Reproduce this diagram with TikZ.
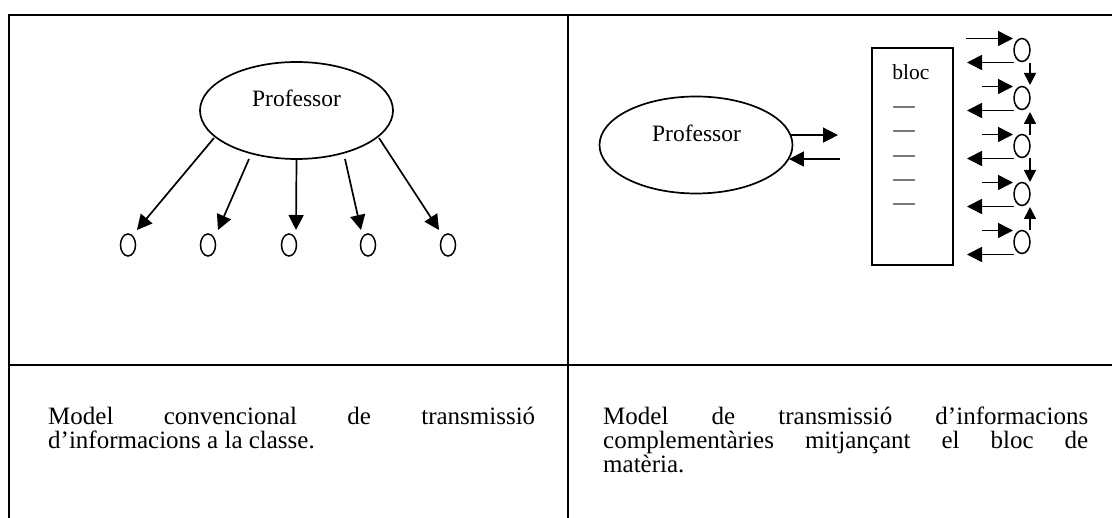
\documentclass[tikz,border=0pt]{standalone}
\usepackage{fontspec}
\setmainfont{Liberation Serif}
\usetikzlibrary{arrows.meta,shapes.geometric,calc}
\begin{document}
\begin{tikzpicture}[x=1pt,y=-1pt,
  tbl/.style={line width=2pt},
  big/.style={draw, ellipse, line width=1.7pt, minimum width=193pt, minimum height=97pt, inner sep=0pt, outer sep=0pt},
  pupil/.style={draw, ellipse, line width=1.5pt, minimum width=15pt, minimum height=22pt, inner sep=0pt, outer sep=0pt},
  pupilr/.style={pupil, minimum width=16pt, minimum height=23pt},
  blocbox/.style={draw, rectangle, line width=1.8pt, minimum width=81pt, minimum height=217pt, inner sep=0pt, outer sep=0pt},
  arr/.style={line width=1.7pt, -{Triangle[length=15pt,width=15pt]}},
  varr/.style={line width=1.7pt, -{Triangle[length=12pt,width=12pt]}},
  lbl/.style={font=\fontsize{23.5}{24}\selectfont, anchor=base, inner sep=0pt},
  smalltxt/.style={font=\fontsize{21.5}{24}\selectfont, anchor=base, inner sep=0pt},
  captxt/.style={font=\fontsize{25}{24}\selectfont, anchor=base west, inner sep=0pt},
]
\useasboundingbox (0,0) rectangle (1112,518);
\fill[white] (0,0) rectangle (1112,518);

% table frame
\draw[tbl] (9,518) -- (9,15) -- (1112,15);
\draw[tbl] (9,365) -- (1112,365);
\draw[tbl] (568,15) -- (568,518);

% left panel
\node[big] (prof1) at (296.5,110.5) {};
\node[lbl] (prof1t) at (296.5,107) {Professor};
\foreach \i/\x in {1/128,2/208,3/289,4/368,5/448}
  \node[pupil] (s\i) at (\x,245) {};
\draw[arr] ($(prof1.center)+(-82.5,27.5)$) -- ($(s1.center)+(9,-15)$);
\draw[arr] ($(prof1.center)+(-47.5,48.5)$) -- ($(s2.center)+(10,-15)$);
\draw[arr] ($(prof1.center)+(0,49.5)$) -- ($(s3.center)+(7,-15)$);
\draw[arr] ($(prof1.center)+(48.5,48.5)$) -- ($(s4.center)+(-7,-15)$);
\draw[arr] ($(prof1.center)+(82.5,27.5)$) -- ($(s5.center)+(-9,-15)$);

% right panel
\node[big] (prof2) at (696,145) {};
\node[lbl] (prof2t) at (696.5,142) {Professor};
\coordinate (po) at (838,135);
\coordinate (pi) at (840,159);
\draw[arr] (prof2.6) -- (po |- prof2.6);
\draw[arr] (pi) -- (pi -| prof2.352);

\node[blocbox] (bloc) at (912.5,156.5) {};
\node[smalltxt] (bloct) at (911,80) {bloc};
\foreach \i/\y in {1/108,2/132,3/157,4/181,5/205}
  \node[smalltxt] (d\i) at (904,\y+4.6) {—};

\foreach \i/\y in {1/50,2/98,3/146,4/194,5/242}
  \node[pupilr] (r\i) at (1022,\y) {};
\draw[arr] ($(r1.center)+(-56,-11.5)$) -- ($(r1.center)+(-9,-11.5)$);
\foreach \i in {2,3,4,5}
  \draw[arr] ($(r\i.center)+(-40,-11.5)$) -- ($(r\i.center)+(-9,-11.5)$);
\foreach \i in {1,2,3,4,5}
  \draw[arr] ($(r\i.center)+(-8,12.5)$) -- ($(r\i.center)+(-55,12.5)$);
\draw[varr] ($(r1.center)+(8,13)$) -- ($(r2.center)+(8,-13)$);
\draw[varr] ($(r3.center)+(8,-11)$) -- ($(r2.center)+(8,14)$);
\draw[varr] ($(r3.center)+(8,12)$) -- ($(r4.center)+(8,-12)$);
\draw[varr] ($(r5.center)+(8,-12)$) -- ($(r4.center)+(8,13)$);

% captions
\node[captxt] (c1a) at (48,425) {\makebox[487pt][s]{Model convencional de transmissió}};
\node[captxt] (c1b) at (48,449) {d’informacions a la classe.};
\node[captxt] (c2a) at (603,425) {\makebox[485pt][s]{Model de transmissió d’informacions}};
\node[captxt] (c2b) at (603,449) {\makebox[485pt][s]{complementàries mitjançant el bloc de}};
\node[captxt] (c2c) at (603,473) {matèria.};
\end{tikzpicture}
\end{document}
